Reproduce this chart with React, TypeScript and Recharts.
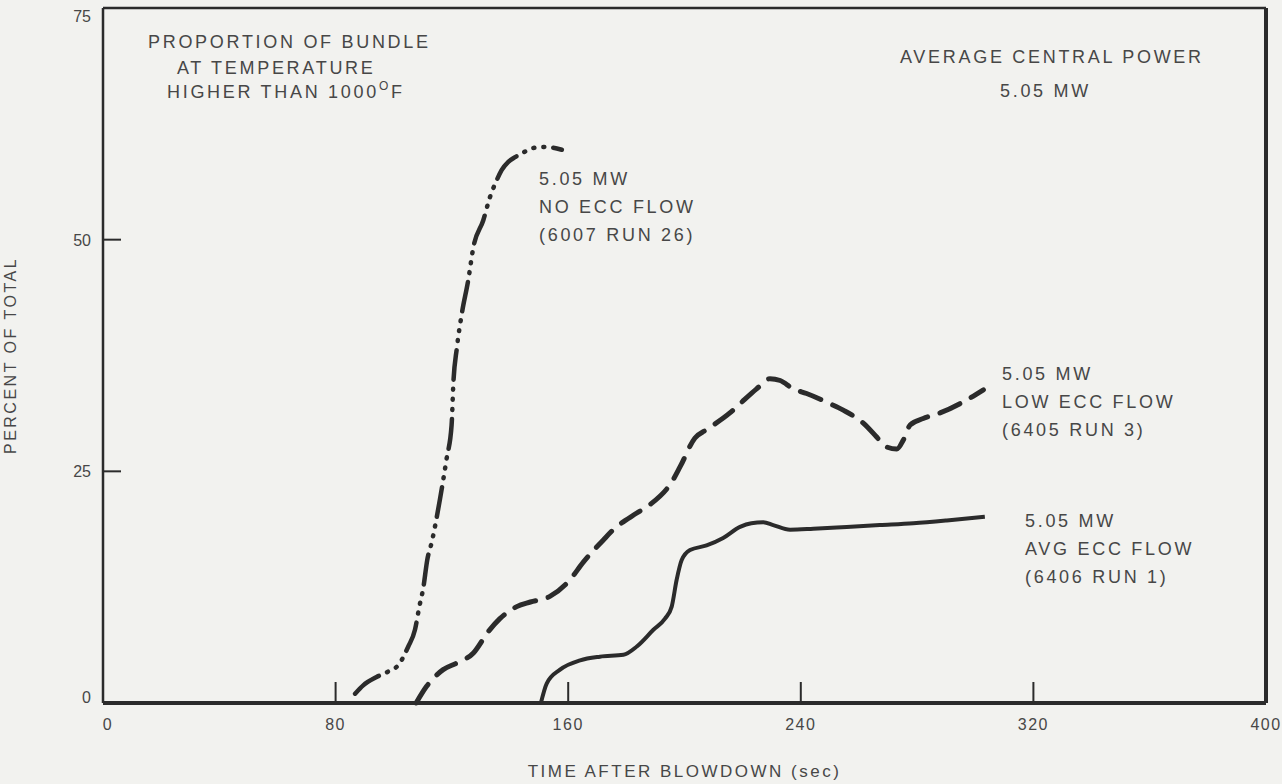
import React from "react";
import { LineChart, Line, XAxis, YAxis, ReferenceLine } from "recharts";

// time after blowdown (sec) / percent of total
const noEccTime = [86.7, 89.5, 94.1, 98.1, 101.6, 105.0, 107.3, 108.8, 110.2, 111.5, 113.1, 115.9, 118.2, 119.9, 120.5, 121.7, 123.4, 125.6, 127.4, 130.8, 133.1, 135.4, 137.1, 139.4, 141.7, 145.1, 148.0, 152.6, 157.8];
const noEccPct = [1.0, 1.9, 2.8, 3.4, 4.1, 6.1, 7.9, 10.4, 12.5, 15.4, 17.4, 22.0, 26.4, 30.0, 34.5, 38.3, 42.0, 45.6, 49.2, 52.1, 54.6, 56.4, 57.5, 58.4, 58.9, 59.5, 59.9, 60.0, 59.7];

const lowEccTime = [107.7, 111.3, 117.0, 121.6, 127.4, 132.5, 136.5, 142.3, 147.0, 153.7, 160.6, 165.2, 172.1, 175.5, 183.6, 188.1, 196.1, 198.5, 203.6, 207.6, 215.6, 219.1, 224.8, 229.4, 232.9, 237.4, 242.0, 250.0, 254.6, 261.5, 266.1, 269.0, 273.0, 275.3, 277.6, 282.1, 287.9, 295.9, 302.8];
const lowEccPct = [0, 1.8, 3.6, 4.3, 5.4, 7.7, 9.1, 10.4, 10.9, 11.5, 13.3, 15.2, 17.6, 18.7, 20.5, 21.4, 24.1, 25.5, 28.6, 29.5, 31.3, 32.3, 33.9, 35.0, 34.8, 33.9, 33.4, 32.3, 31.6, 30.2, 28.7, 27.7, 27.4, 28.4, 30.0, 30.7, 31.3, 32.5, 33.8];

const avgEccTime = [150.6, 152.6, 157.2, 164.1, 170.9, 179.0, 183.6, 189.3, 193.3, 195.6, 197.3, 199.0, 201.9, 207.6, 213.3, 219.1, 223.0, 227.1, 230.5, 236.3, 244.3, 255.8, 267.2, 278.7, 290.2, 303.3];
const avgEccPct = [0, 2.1, 3.6, 4.6, 5.0, 5.2, 6.1, 7.9, 9.1, 10.4, 13.3, 15.4, 16.5, 17.0, 17.8, 19.0, 19.4, 19.5, 19.2, 18.7, 18.8, 19.0, 19.2, 19.4, 19.7, 20.1];

const xTicks = [0, 80, 160, 240, 320, 400];
const yTicks = [0, 25, 50, 75];

const toRows = (t: number[], v: number[]) => t.map((x, i) => ({ t: x, pct: v[i] }));

const INK = "#2b2b2b";
const TEXT = "#474747";
const FONT = "'Liberation Sans', Arial, sans-serif";

const XTick = (props: any) => {
  const { x, y, payload } = props;
  const v = payload.value;
  return (
    <g>
      {v > 0 && v < 400 && <line x1={x} x2={x} y1={y} y2={y - 21} stroke={INK} strokeWidth={2} />}
      <text x={v === 0 ? x + 5 : x} y={y + 27} textAnchor="middle" fill={TEXT} fontSize={16} letterSpacing={1.5} fontFamily={FONT}>
        {v}
      </text>
    </g>
  );
};

const YTick = (props: any) => {
  const { x, y, payload } = props;
  const v = payload.value;
  return (
    <g>
      {v > 0 && v < 75 && <line x1={x} x2={x + 18} y1={y} y2={y} stroke={INK} strokeWidth={2} />}
      <text x={x - 12} y={v === 75 ? y + 13 : v === 0 ? y : y + 6} textAnchor="end" fill={TEXT} fontSize={16} fontFamily={FONT}>
        {v}
      </text>
    </g>
  );
};

const Note = ({ x, y, lines }: { x: number; y: number; lines: React.ReactNode[] }) => (
  <g>
    {lines.map((l, i) => (
      <text key={i} x={x} y={y + i * 28} fill={TEXT} fontSize={18} letterSpacing={2.7} fontFamily={FONT}>
        {l}
      </text>
    ))}
  </g>
);

export default function App() {
  return (
    <div style={{ position: "absolute", left: 0, top: 0, width: 1282, height: 784, background: "#f2f2ef" }}>
      <LineChart width={1282} height={784} margin={{ top: 8, right: 16, left: 0, bottom: 0 }}>
        <XAxis
          dataKey="t"
          type="number"
          domain={[0, 400]}
          ticks={xTicks}
          allowDataOverflow
          height={81}
          tickSize={0}
          tickMargin={0}
          tickLine={false}
          tick={<XTick />}
          axisLine={{ stroke: INK, strokeWidth: 4 }}
          label={{ value: "TIME AFTER BLOWDOWN (sec)", position: "insideBottom", offset: 7, fill: TEXT, fontSize: 17, letterSpacing: 2.5, fontFamily: FONT }}
        />
        <YAxis
          type="number"
          domain={[0, 75]}
          ticks={yTicks}
          width={103}
          tickSize={0}
          tickMargin={0}
          tickLine={false}
          tick={<YTick />}
          axisLine={{ stroke: INK, strokeWidth: 2.5 }}
          label={{ value: "PERCENT OF TOTAL", angle: -90, position: "insideLeft", offset: 10, fill: TEXT, fontSize: 16, letterSpacing: 2.5, fontFamily: FONT, style: { textAnchor: "middle" } }}
        />
        <ReferenceLine y={75} stroke={INK} strokeWidth={2.5} />
        <ReferenceLine x={400} stroke={INK} strokeWidth={4} />

        <Line
          data={toRows(noEccTime, noEccPct)}
          dataKey="pct"
          type="monotone"
          stroke={INK}
          strokeWidth={4.5}
          strokeLinecap="round"
          strokeDasharray="30 9 1 9 1 9 1 9"
          dot={false}
          isAnimationActive={false}
        />
        <Line
          data={toRows(lowEccTime, lowEccPct)}
          dataKey="pct"
          type="monotone"
          stroke={INK}
          strokeWidth={5}
          strokeLinecap="round"
          strokeDasharray="22 13"
          dot={false}
          isAnimationActive={false}
        />
        <Line
          data={toRows(avgEccTime, avgEccPct)}
          dataKey="pct"
          type="monotone"
          stroke={INK}
          strokeWidth={4}
          dot={false}
          isAnimationActive={false}
        />

        <g>
          <text x={148} y={48} fill={TEXT} fontSize={18} letterSpacing={2.7} fontFamily={FONT}>PROPORTION OF BUNDLE</text>
          <text x={177} y={74} fill={TEXT} fontSize={18} letterSpacing={2.7} fontFamily={FONT}>AT TEMPERATURE</text>
          <text x={167} y={98} fill={TEXT} fontSize={18} letterSpacing={2.7} fontFamily={FONT}>
            HIGHER THAN 1000
            <tspan fontSize={12} dy={-8}>O</tspan>
            <tspan dy={8}>F</tspan>
          </text>
        </g>
        <Note x={900} y={63} lines={["AVERAGE CENTRAL POWER"]} />
        <Note x={1000} y={97} lines={["5.05 MW"]} />
        <Note x={539} y={185} lines={["5.05 MW", "NO ECC FLOW", "(6007 RUN 26)"]} />
        <Note x={1002} y={380} lines={["5.05 MW", "LOW ECC FLOW", "(6405 RUN 3)"]} />
        <Note x={1025} y={527} lines={["5.05 MW", "AVG ECC FLOW", "(6406 RUN 1)"]} />
      </LineChart>
    </div>
  );
}
